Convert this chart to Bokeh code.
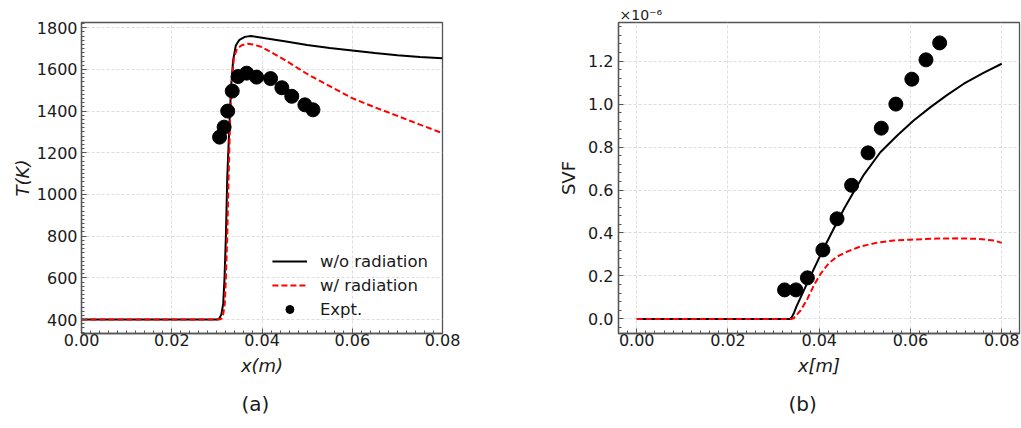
from bokeh.plotting import figure
from bokeh.layouts import row
from bokeh.models import (Range1d, SingleIntervalTicker, NumeralTickFormatter,
                          Legend, LegendItem, Title)
from bokeh.embed import file_html
from bokeh.resources import INLINE

# ---------------- data: panel (a) temperature ----------------
x_T_worad = [0.0, 0.0300, 0.0305, 0.0310, 0.0314, 0.0317, 0.0320, 0.0323, 0.0329,
             0.0332, 0.0336, 0.0342, 0.0350, 0.0362, 0.0375, 0.0400, 0.0450, 0.0500,
             0.0550, 0.0600, 0.0650, 0.0700, 0.0750, 0.0800]
T_worad = [400, 400, 403, 425, 475, 600, 800, 1080, 1400,
           1530, 1643, 1715, 1742, 1756, 1760, 1752, 1735, 1717,
           1703, 1691, 1679, 1668, 1660, 1653]

x_T_rad = [0.0, 0.0305, 0.0310, 0.0314, 0.03175, 0.0320, 0.0323, 0.0326, 0.0329,
           0.0332, 0.0338, 0.0345, 0.0355, 0.0368, 0.0380, 0.0400, 0.0450, 0.0500,
           0.0550, 0.0600, 0.0650, 0.0700, 0.0750, 0.0800]
T_rad = [400, 400, 403, 425, 475, 600, 800, 1080, 1330,
         1515, 1659, 1700, 1716, 1723, 1720, 1707, 1646, 1578,
         1520, 1462, 1418, 1377, 1335, 1294]

x_T_expt = [0.0306, 0.0316, 0.0324, 0.0334, 0.0347, 0.0366, 0.0388, 0.0419,
            0.0444, 0.0466, 0.0495, 0.0513]
T_expt = [1275, 1323, 1400, 1496, 1566, 1582, 1563, 1556, 1512, 1471, 1430, 1406]

# ---------------- data: panel (b) soot volume fraction (x 1e-6) ----------------
x_S_worad = [0.0, 0.0336, 0.0340, 0.0345, 0.0350, 0.0379, 0.0408, 0.0439, 0.0455, 0.0472,
             0.0498, 0.0534, 0.0571, 0.0607, 0.0644, 0.0680, 0.0717, 0.0760, 0.0800]
S_worad = [0.0, 0.0, 0.008, 0.030, 0.057, 0.191, 0.321, 0.450, 0.515, 0.578,
           0.672, 0.776, 0.854, 0.924, 0.986, 1.042, 1.095, 1.145, 1.188]

x_S_rad = [0.0, 0.0340, 0.0344, 0.0359, 0.0374, 0.0388, 0.0403, 0.0421, 0.0439,
           0.0461, 0.0490, 0.0527, 0.0563, 0.0600, 0.0658, 0.0702, 0.0746, 0.0783, 0.0800]
S_rad = [0.0, 0.0, 0.003, 0.039, 0.093, 0.155, 0.210, 0.259, 0.290,
         0.313, 0.337, 0.355, 0.365, 0.369, 0.374, 0.375, 0.373, 0.365, 0.354]

x_S_expt = [0.0324, 0.0349, 0.0374, 0.0408, 0.0439, 0.0471, 0.0507, 0.0536,
            0.0568, 0.0603, 0.0634, 0.0664]
S_expt = [0.135, 0.135, 0.191, 0.321, 0.466, 0.622, 0.773, 0.888, 1.000, 1.116, 1.206, 1.285]

labels = ["w/o radiation", "w/ radiation", "Expt."]

FONT = "DejaVu Sans"
TXT = "#1a1a1a"
FRAME = "#555555"
H = 428
TOP = 22
BOTTOM = 95


def style(p, xint, xminor, xfmt, yint, yminor, yfmt, ystand):
    p.xaxis.ticker = SingleIntervalTicker(interval=xint, num_minor_ticks=xminor)
    p.yaxis.ticker = SingleIntervalTicker(interval=yint, num_minor_ticks=yminor)
    p.xaxis.formatter = NumeralTickFormatter(format=xfmt)
    if yfmt:
        p.yaxis.formatter = NumeralTickFormatter(format=yfmt)
    for ax in (p.xaxis[0], p.yaxis[0]):
        ax.axis_line_color = FRAME
        ax.axis_line_width = 1.3
        ax.major_tick_in = 5
        ax.major_tick_out = 0
        ax.minor_tick_in = 3
        ax.minor_tick_out = 0
        ax.major_tick_line_color = FRAME
        ax.minor_tick_line_color = FRAME
        ax.major_label_text_font = FONT
        ax.major_label_text_font_size = "16px"
        ax.major_label_text_color = TXT
        ax.axis_label_text_font = FONT
        ax.axis_label_text_font_size = "18px"
        ax.axis_label_text_color = TXT
    p.xaxis.major_label_standoff = 0
    p.yaxis.major_label_standoff = ystand
    p.xaxis.axis_label_standoff = 6
    p.outline_line_color = FRAME
    p.outline_line_width = 1.3
    for g in (p.xgrid[0], p.ygrid[0]):
        g.grid_line_color = "#d4d4d4"
        g.grid_line_dash = "3 2"
        g.grid_line_width = 0.8
    p.background_fill_color = "white"
    p.border_fill_color = "white"


def caption(p, text, offset):
    p.add_layout(Title(text=text, align="left", offset=offset, text_font=FONT,
                       text_font_size="20px", text_font_style="normal", text_color=TXT,
                       standoff=23), "below")


# ---------------- panel (a) ----------------
p1 = figure(width=520, height=H, x_range=Range1d(0.0, 0.08), y_range=Range1d(333, 1825),
            output_backend="svg", toolbar_location=None,
            min_border_left=81, min_border_right=78, min_border_top=TOP, min_border_bottom=BOTTOM)
style(p1, 0.02, 10, "0.00", 200, 10, None, 4)
p1.xaxis.axis_label = "x(m)"
p1.yaxis.axis_label = "T(K)"
p1.xaxis.axis_label_text_font_style = "italic"
p1.yaxis.axis_label_text_font_style = "italic"
p1.yaxis.axis_label_standoff = 1

l1 = p1.line(x_T_worad, T_worad, line_color="black", line_width=2)
l2 = p1.line(x_T_rad, T_rad, line_color="#ff0000", line_width=2, line_dash="6 3")
s1 = p1.scatter(x_T_expt, T_expt, size=14, marker="circle", fill_color="black", line_color="black")

leg = Legend(items=[LegendItem(label=labels[0], renderers=[l1]),
                    LegendItem(label=labels[1], renderers=[l2]),
                    LegendItem(label=labels[2], renderers=[s1])],
             location="bottom_right", margin=14, padding=14,
             glyph_width=35, glyph_height=20, label_height=20, spacing=4,
             label_standoff=13, border_line_color=None, background_fill_alpha=0,
             label_text_font=FONT, label_text_font_size="16.5px", label_text_color=TXT)
p1.add_layout(leg)
caption(p1, "(a)", 160)

# ---------------- panel (b) ----------------
p2 = figure(width=501, height=H, x_range=Range1d(-0.004, 0.0839), y_range=Range1d(-0.068, 1.380),
            output_backend="svg", toolbar_location=None,
            min_border_left=98, min_border_right=2, min_border_top=TOP, min_border_bottom=BOTTOM)
style(p2, 0.02, 10, "0.00", 0.2, 5, "0.0", 5)
p2.xaxis.axis_label = "x[m]"
p2.xaxis.axis_label_text_font_style = "italic"
p2.yaxis.axis_label = "SVF"
p2.yaxis.axis_label_text_font_style = "normal"
p2.yaxis.axis_label_standoff = 6

p2.line(x_S_worad, S_worad, line_color="black", line_width=2)
p2.line(x_S_rad, S_rad, line_color="#ff0000", line_width=2, line_dash="6 3")
p2.scatter(x_S_expt, S_expt, size=14, marker="circle", fill_color="black", line_color="black")

p2.add_layout(Title(text="\u00d710\u207b\u2076", align="left", offset=1, text_font=FONT,
                    text_font_size="14px", text_font_style="normal", text_color=TXT,
                    standoff=0), "above")
caption(p2, "(b)", 170)

layout = row(p1, p2)
open("out.html", "w").write(file_html(layout, INLINE))
